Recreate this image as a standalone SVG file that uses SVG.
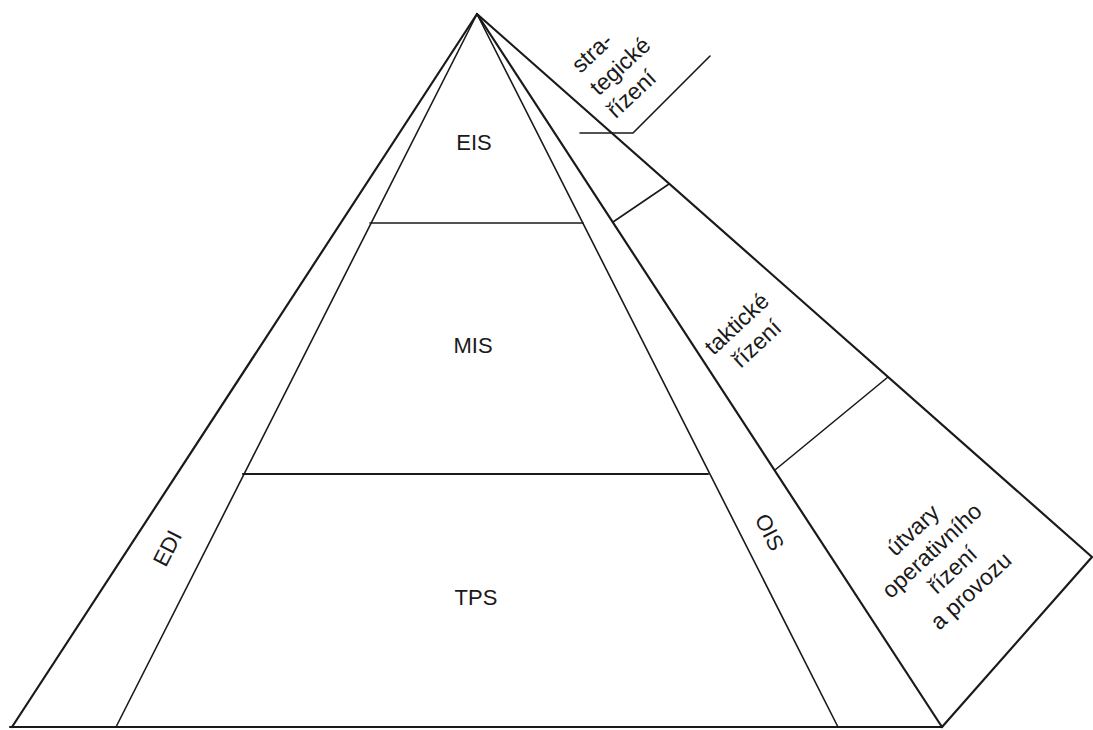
<svg xmlns="http://www.w3.org/2000/svg" width="1093" height="730" viewBox="0 0 1093 730">
<style>
.ln{stroke:#1a1a1a;stroke-width:2.2;fill:none;stroke-linecap:round;stroke-linejoin:round}
.tn{stroke:#1a1a1a;stroke-width:1.6;fill:none;stroke-linecap:round}
.lb{font-family:"Liberation Sans",Arial,sans-serif;font-size:22px;fill:#1a1a1a;text-anchor:middle}
.rl{font-family:"Liberation Sans",Arial,sans-serif;font-size:23px;fill:#1a1a1a}
</style>
<rect width="1093" height="730" fill="#ffffff"/>
<g id="connectors">
<polyline class="ln" points="12,727 477,14 942,727"/>
<line class="ln" x1="10" y1="727" x2="942" y2="727"/>
<polyline class="ln" points="477,14 1092,557 942,727"/>
<line class="tn" x1="477" y1="14" x2="116" y2="727"/>
<line class="tn" x1="477" y1="14" x2="838" y2="727"/>
<line class="tn" x1="370" y1="223" x2="583" y2="223"/>
<line class="ln" x1="243" y1="474" x2="708" y2="474"/>
<line class="tn" x1="613" y1="222" x2="669" y2="184"/>
<line class="tn" x1="775" y1="470" x2="888" y2="377"/>
<polyline class="tn" points="580,133 633,133 710,56"/>
</g>
<g id="EIS"><text class="lb" x="474" y="150">EIS</text></g>
<g id="MIS"><text class="lb" x="473" y="353">MIS</text></g>
<g id="TPS"><text class="lb" x="476" y="605">TPS</text></g>
<g id="EDI"><text class="lb" x="167" y="556" transform="rotate(-63 167 548)">EDI</text></g>
<g id="OIS"><text class="lb" x="770" y="540" transform="rotate(63 770 532)">OIS</text></g>
<g id="strategicke" transform="rotate(-43)">
<text class="rl" x="374" y="450">stra-</text>
<text class="rl" x="372" y="479">tegické</text>
<text class="rl" x="369" y="507">řízení</text>
</g>
<g id="takticke" transform="rotate(-43)">
<text class="rl" x="318" y="747" text-anchor="middle">taktické</text>
<text class="rl" x="319" y="775" text-anchor="middle">řízení</text>
</g>
<g id="operativni" transform="rotate(-43)">
<text class="rl" x="306" y="1018" text-anchor="middle">útvary</text>
<text class="rl" x="306" y="1046" text-anchor="middle">operativního</text>
<text class="rl" x="308" y="1074" text-anchor="middle">řízení</text>
<text class="rl" x="307" y="1102" text-anchor="middle">a provozu</text>
</g>
</svg>
